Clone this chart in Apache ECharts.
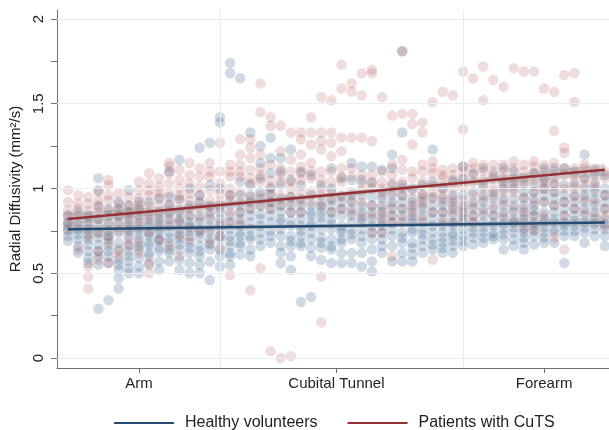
<!DOCTYPE html>
<html lang="en">
<head>
<meta charset="UTF-8">
<title>Radial Diffusivity</title>
<style>
  html, body { margin: 0; padding: 0; background: #fff; }
  #chart { width: 609px; height: 430px; }
</style>
<script src="https://cdn.jsdelivr.net/npm/echarts@6/dist/echarts.min.js"></script>
</head>
<body>
<div id="chart"></div>
<script>
// slice position index along the nerve -> RD values per group
const healthyValues = [
  [0.84, 0.78, 0.75, 0.72, 0.69, 0.80],
  [0.86, 0.80, 0.76, 0.73, 0.70, 0.66, 0.62],
  [0.84, 0.80, 0.76, 0.73, 0.70, 0.67, 0.63, 0.59, 0.56],
  [1.06, 0.99, 0.90, 0.82, 0.78, 0.74, 0.71, 0.67, 0.63, 0.60, 0.55, 0.29],
  [0.88, 0.84, 0.79, 0.75, 0.72, 0.70, 0.66, 0.63, 0.60, 0.56, 0.34],
  [0.92, 0.88, 0.84, 0.80, 0.74, 0.68, 0.64, 0.58, 0.55, 0.52, 0.47, 0.41],
  [0.99, 0.90, 0.86, 0.82, 0.78, 0.75, 0.72, 0.67, 0.63, 0.60, 0.57, 0.53, 0.50],
  [0.92, 0.88, 0.84, 0.80, 0.76, 0.73, 0.70, 0.66, 0.64, 0.59, 0.54, 0.50],
  [0.92, 0.84, 0.80, 0.78, 0.74, 0.72, 0.68, 0.66, 0.62, 0.60, 0.55],
  [0.94, 0.86, 0.82, 0.80, 0.76, 0.74, 0.70, 0.69, 0.65, 0.63, 0.57, 0.52],
  [1.10, 0.95, 0.90, 0.86, 0.82, 0.78, 0.74, 0.71, 0.68, 0.64, 0.62, 0.57],
  [1.17, 0.94, 0.86, 0.82, 0.80, 0.76, 0.73, 0.70, 0.67, 0.64, 0.58, 0.52],
  [1.00, 0.90, 0.84, 0.80, 0.78, 0.75, 0.72, 0.68, 0.65, 0.62, 0.56, 0.50],
  [1.24, 0.96, 0.92, 0.84, 0.80, 0.76, 0.74, 0.71, 0.66, 0.63, 0.60, 0.55, 0.50],
  [1.27, 1.02, 0.90, 0.86, 0.82, 0.78, 0.74, 0.70, 0.67, 0.64, 0.57, 0.46],
  [1.42, 1.39, 1.00, 0.90, 0.86, 0.82, 0.78, 0.76, 0.72, 0.70, 0.64, 0.60, 0.54],
  [1.74, 1.68, 0.96, 0.90, 0.84, 0.80, 0.76, 0.72, 0.69, 0.66, 0.62, 0.60, 0.55],
  [1.65, 1.04, 0.96, 0.90, 0.86, 0.82, 0.78, 0.74, 0.72, 0.68, 0.66, 0.61],
  [1.33, 1.02, 0.96, 0.92, 0.88, 0.84, 0.80, 0.76, 0.72, 0.70, 0.64, 0.60],
  [1.25, 1.15, 1.06, 0.98, 0.94, 0.90, 0.85, 0.82, 0.78, 0.74, 0.70, 0.66],
  [1.30, 1.18, 1.09, 1.00, 0.96, 0.92, 0.88, 0.84, 0.80, 0.75, 0.72, 0.68],
  [1.18, 1.10, 1.02, 0.94, 0.90, 0.86, 0.82, 0.80, 0.76, 0.72, 0.66, 0.62, 0.56],
  [1.23, 1.05, 0.95, 0.90, 0.86, 0.81, 0.78, 0.72, 0.69, 0.66, 0.60, 0.52],
  [1.10, 1.02, 0.94, 0.90, 0.86, 0.82, 0.78, 0.75, 0.72, 0.68, 0.66, 0.33],
  [1.08, 0.96, 0.90, 0.86, 0.84, 0.80, 0.78, 0.74, 0.70, 0.65, 0.60, 0.36],
  [1.02, 0.92, 0.89, 0.86, 0.83, 0.80, 0.76, 0.71, 0.68, 0.65, 0.58],
  [1.12, 1.00, 0.94, 0.90, 0.86, 0.82, 0.79, 0.76, 0.70, 0.66, 0.64, 0.56],
  [1.06, 0.96, 0.92, 0.88, 0.84, 0.78, 0.76, 0.74, 0.70, 0.68, 0.62, 0.56],
  [1.15, 1.05, 0.96, 0.92, 0.88, 0.84, 0.80, 0.76, 0.73, 0.70, 0.62, 0.56],
  [1.13, 1.05, 0.96, 0.90, 0.86, 0.82, 0.80, 0.76, 0.72, 0.68, 0.62, 0.54],
  [1.13, 1.03, 0.95, 0.90, 0.86, 0.82, 0.78, 0.74, 0.70, 0.64, 0.57, 0.51],
  [1.11, 0.98, 0.94, 0.90, 0.86, 0.82, 0.78, 0.74, 0.70, 0.66, 0.62],
  [1.20, 1.12, 1.02, 0.96, 0.92, 0.88, 0.84, 0.80, 0.76, 0.72, 0.66, 0.57],
  [1.81, 1.33, 1.02, 0.96, 0.92, 0.88, 0.84, 0.80, 0.74, 0.71, 0.68, 0.62, 0.57],
  [1.00, 0.94, 0.90, 0.86, 0.82, 0.80, 0.76, 0.74, 0.68, 0.65, 0.61, 0.57],
  [1.02, 0.96, 0.92, 0.88, 0.84, 0.80, 0.76, 0.73, 0.70, 0.66, 0.62],
  [1.23, 1.04, 0.95, 0.90, 0.86, 0.82, 0.78, 0.74, 0.70, 0.67, 0.64],
  [1.00, 0.94, 0.90, 0.86, 0.82, 0.78, 0.74, 0.71, 0.68, 0.65, 0.62],
  [1.05, 0.96, 0.92, 0.88, 0.84, 0.80, 0.78, 0.74, 0.72, 0.69, 0.66, 0.62],
  [1.13, 1.06, 0.96, 0.90, 0.86, 0.82, 0.80, 0.76, 0.72, 0.69, 0.66],
  [1.09, 0.98, 0.92, 0.88, 0.84, 0.80, 0.77, 0.74, 0.71, 0.67],
  [1.12, 1.02, 0.96, 0.92, 0.88, 0.84, 0.80, 0.77, 0.74, 0.71, 0.68],
  [1.08, 0.98, 0.94, 0.88, 0.84, 0.80, 0.78, 0.74, 0.72, 0.70],
  [1.12, 1.04, 1.00, 0.94, 0.90, 0.86, 0.82, 0.79, 0.76, 0.73, 0.70, 0.64],
  [1.10, 1.04, 1.00, 0.94, 0.90, 0.86, 0.82, 0.80, 0.77, 0.74, 0.70, 0.66],
  [1.04, 0.98, 0.94, 0.90, 0.86, 0.82, 0.80, 0.77, 0.74, 0.71, 0.68, 0.64],
  [1.09, 1.02, 0.98, 0.94, 0.90, 0.87, 0.84, 0.80, 0.78, 0.75, 0.72, 0.67],
  [1.12, 1.05, 1.00, 0.96, 0.92, 0.86, 0.82, 0.80, 0.77, 0.74, 0.71, 0.68],
  [1.12, 1.03, 0.98, 0.94, 0.90, 0.86, 0.82, 0.80, 0.76, 0.74, 0.68],
  [1.12, 1.02, 0.96, 0.92, 0.88, 0.84, 0.80, 0.78, 0.75, 0.72, 0.56],
  [1.10, 1.02, 0.96, 0.92, 0.88, 0.84, 0.81, 0.78, 0.75, 0.72],
  [1.20, 1.06, 1.00, 0.96, 0.92, 0.88, 0.84, 0.80, 0.77, 0.74, 0.68],
  [1.08, 1.02, 0.98, 0.94, 0.90, 0.86, 0.82, 0.79, 0.76, 0.72],
  [1.08, 1.00, 0.96, 0.92, 0.88, 0.82, 0.79, 0.76, 0.72, 0.66]
];

const patientValues = [
  [0.99, 0.92, 0.87, 0.84, 0.80, 0.76],
  [0.96, 0.91, 0.88, 0.84, 0.78, 0.64],
  [0.95, 0.91, 0.87, 0.83, 0.78, 0.72, 0.54, 0.48, 0.41],
  [0.98, 0.93, 0.89, 0.86, 0.82, 0.74, 0.63, 0.58],
  [1.05, 1.02, 0.96, 0.93, 0.87, 0.80, 0.72, 0.68, 0.56],
  [0.97, 0.91, 0.87, 0.84, 0.79, 0.75, 0.63, 0.60],
  [0.95, 0.90, 0.86, 0.84, 0.80, 0.76, 0.70, 0.66],
  [1.04, 0.99, 0.94, 0.90, 0.87, 0.82, 0.78, 0.68, 0.62],
  [1.09, 1.03, 0.99, 0.96, 0.90, 0.86, 0.82, 0.74, 0.56, 0.50],
  [1.06, 1.01, 0.98, 0.95, 0.90, 0.84, 0.78, 0.70],
  [1.15, 1.13, 1.09, 1.03, 0.97, 0.91, 0.85, 0.80, 0.66],
  [1.11, 1.05, 1.00, 0.96, 0.93, 0.87, 0.81, 0.72, 0.60],
  [1.15, 1.08, 1.03, 0.97, 0.93, 0.88, 0.84, 0.77, 0.70],
  [1.12, 1.07, 1.01, 0.96, 0.91, 0.88, 0.82, 0.75],
  [1.15, 1.10, 1.07, 0.99, 0.93, 0.89, 0.84, 0.76, 0.68],
  [1.27, 1.10, 1.03, 0.97, 0.92, 0.88, 0.80, 0.72, 0.65],
  [1.14, 1.10, 1.07, 1.00, 0.96, 0.93, 0.86, 0.80, 0.49],
  [1.29, 1.20, 1.14, 1.10, 1.07, 0.98, 0.92, 0.86, 0.80],
  [1.29, 1.24, 1.18, 1.11, 1.06, 1.03, 0.95, 0.88, 0.40],
  [1.62, 1.45, 1.20, 1.12, 1.08, 1.04, 0.96, 0.90, 0.53],
  [1.42, 1.37, 1.14, 1.05, 1.01, 0.97, 0.92, 0.88, 0.04],
  [1.37, 1.22, 1.12, 1.08, 1.04, 0.96, 0.90, 0.00],
  [1.33, 1.17, 1.10, 1.04, 1.00, 0.95, 0.92, 0.86, 0.01],
  [1.33, 1.29, 1.20, 1.13, 1.09, 1.05, 0.98, 0.92, 0.86],
  [1.42, 1.33, 1.26, 1.15, 1.10, 1.06, 0.98, 0.92],
  [1.54, 1.33, 1.28, 1.23, 1.10, 1.05, 1.00, 0.96, 0.90, 0.48, 0.21],
  [1.52, 1.33, 1.27, 1.19, 1.10, 1.04, 0.98, 0.93, 0.86],
  [1.73, 1.59, 1.30, 1.22, 1.12, 1.07, 1.04, 0.95, 0.88],
  [1.62, 1.57, 1.30, 1.12, 1.07, 0.98, 0.93, 0.86],
  [1.68, 1.55, 1.30, 1.08, 1.03, 0.99, 0.92, 0.84],
  [1.70, 1.68, 1.28, 1.08, 1.04, 1.00, 0.90, 0.84, 0.74],
  [1.54, 1.10, 1.04, 1.00, 0.96, 0.88, 0.84, 0.80, 0.74],
  [1.43, 1.14, 1.08, 1.03, 0.98, 0.90, 0.84, 0.80, 0.60],
  [1.81, 1.44, 1.17, 1.11, 1.04, 1.00, 0.96, 0.88, 0.82],
  [1.44, 1.38, 1.26, 1.10, 1.06, 0.99, 0.92, 0.88, 0.84],
  [1.39, 1.33, 1.14, 1.10, 1.04, 0.97, 0.94, 0.90, 0.82],
  [1.51, 1.16, 1.12, 1.09, 1.02, 0.98, 0.94, 0.86, 0.58],
  [1.57, 1.11, 1.08, 1.06, 1.00, 0.96, 0.92, 0.86, 0.80],
  [1.55, 1.12, 1.08, 1.04, 1.00, 0.94, 0.90, 0.86, 0.80],
  [1.69, 1.35, 1.13, 1.10, 1.05, 1.01, 0.93, 0.88, 0.84],
  [1.65, 1.15, 1.12, 1.08, 1.04, 0.96, 0.90, 0.84, 0.80],
  [1.72, 1.52, 1.14, 1.10, 1.05, 1.00, 0.94, 0.86],
  [1.64, 1.14, 1.10, 1.06, 1.00, 0.96, 0.90, 0.84],
  [1.60, 1.14, 1.10, 1.06, 1.02, 0.98, 0.92, 0.84],
  [1.71, 1.16, 1.12, 1.06, 1.02, 0.98, 0.88, 0.80],
  [1.69, 1.14, 1.10, 1.06, 1.02, 0.95, 0.88, 0.84, 0.76],
  [1.69, 1.16, 1.13, 1.09, 1.05, 0.98, 0.92, 0.84, 0.76],
  [1.59, 1.14, 1.10, 1.06, 1.03, 1.00, 0.92, 0.84],
  [1.57, 1.34, 1.15, 1.10, 1.06, 1.02, 0.98, 0.90, 0.71],
  [1.67, 1.24, 1.21, 1.12, 1.08, 1.00, 0.92, 0.84, 0.64],
  [1.68, 1.51, 1.12, 1.08, 1.04, 1.00, 0.95, 0.88],
  [1.14, 1.12, 1.06, 1.02, 0.94, 0.86],
  [1.12, 1.10, 1.04, 1.00, 0.92, 0.84],
  [1.10, 1.06, 0.96, 0.88, 0.84, 0.78]
];

// fitted lines and confidence bands
const fitX = [0, 53];
const healthyFit = [0.76, 0.80];
const patientFit = [0.82, 1.11];

const bandX = [0, 13, 26.5, 40, 53];
const healthyLower = [0.735, 0.755, 0.770, 0.775, 0.775];
const healthyUpper = [0.785, 0.785, 0.790, 0.805, 0.825];
const patientLower = [0.785, 0.871, 0.952, 1.019, 1.075];
const patientUpper = [0.855, 0.911, 0.978, 1.059, 1.145];

const regionLabels = ['Arm', 'Cubital Tunnel', 'Forearm'];
const regionTicks = [7, 26.5, 47];
const regionBounds = [15, 39];
const yLabelTicks = [0, 0.5, 1, 1.5, 2];
const yMinorTicks = [0, 0.25, 0.5, 0.75, 1, 1.25, 1.5, 1.75, 2];

const BLUE = '#234b73';
const RED = '#952f33';
const AXIS = '#6f6f6f';
const GRID = '#e8eef1';

function toPoints(cols) {
  const out = [];
  cols.forEach((vals, i) => vals.forEach(v => out.push([i, v])));
  return out;
}

// one quad per band segment, placed through the axes
function bandSeries(lower, upper) {
  return {
    type: 'custom', silent: true, z: 3,
    data: bandX.slice(0, -1).map((x, i) => [x, lower[i], upper[i]]),
    encode: { x: 0, y: [1, 2] },
    renderItem: (params, api) => {
      const i = params.dataIndex;
      const pts = [
        api.coord([bandX[i], lower[i]]),
        api.coord([bandX[i + 1], lower[i + 1]]),
        api.coord([bandX[i + 1], upper[i + 1]]),
        api.coord([bandX[i], upper[i]])
      ];
      return {
        type: 'polygon',
        shape: { points: pts },
        style: { fill: 'rgba(150,150,150,0.38)' }
      };
    }
  };
}

const chart = echarts.init(document.getElementById('chart'));

const option = {
  animation: false,
  textStyle: { fontFamily: 'Liberation Sans, Arial, sans-serif' },
  grid: { left: 57, right: 0, top: 10, bottom: 62 },
  legend: {
    left: 109, top: 410,
    itemWidth: 60, itemHeight: 2, itemGap: 30,
    textStyle: { fontSize: 16, color: '#222', padding: [0, 0, 0, 6] },
    data: [
      { name: 'Healthy volunteers', icon: 'rect' },
      { name: 'Patients with CuTS', icon: 'rect' }
    ]
  },
  xAxis: {
    type: 'value', min: -1.086, max: 53.41,
    splitLine: { show: false },
    axisLine: { onZero: false, lineStyle: { color: AXIS } },
    axisTick: { customValues: regionTicks, length: 5, lineStyle: { color: AXIS } },
    axisLabel: {
      customValues: regionTicks, fontSize: 15, color: '#222', margin: 8,
      formatter: v => regionLabels[regionTicks.indexOf(v)] || ''
    }
  },
  yAxis: {
    type: 'value', min: -0.059, max: 2.053,
    name: 'Radial Diffusivity (mm\u00b2/s)', nameLocation: 'middle', nameGap: 25,
    nameTextStyle: { fontSize: 15, color: '#222' },
    splitLine: { show: false },
    axisLine: { show: true, onZero: false, lineStyle: { color: AXIS } },
    axisTick: { show: true, customValues: yMinorTicks, length: 6, lineStyle: { color: AXIS } },
    axisLabel: {
      customValues: yLabelTicks, rotate: 90, fontSize: 15, color: '#222', margin: 11,
      formatter: v => String(v)
    }
  },
  series: [
    {
      name: 'healthy points', type: 'scatter', silent: true, z: 2,
      symbolSize: 10.5,
      itemStyle: { color: 'rgba(38,82,132,0.27)' },
      data: toPoints(healthyValues),
      markLine: {
        silent: true, symbol: 'none', label: { show: false },
        lineStyle: { color: GRID, width: 1, type: 'solid' },
        data: yLabelTicks.map(v => ({ yAxis: v })).concat(regionBounds.map(v => ({ xAxis: v })))
      }
    },
    {
      name: 'patient points', type: 'scatter', silent: true, z: 2,
      symbolSize: 10.5,
      itemStyle: { color: 'rgba(160,45,50,0.21)' },
      data: toPoints(patientValues)
    },
    bandSeries(healthyLower, healthyUpper),
    bandSeries(patientLower, patientUpper),
    {
      name: 'Healthy volunteers', type: 'line', symbol: 'none', z: 5,
      itemStyle: { color: BLUE }, lineStyle: { color: BLUE, width: 2.5 },
      data: fitX.map((x, i) => [x, healthyFit[i]])
    },
    {
      name: 'Patients with CuTS', type: 'line', symbol: 'none', z: 5,
      itemStyle: { color: RED }, lineStyle: { color: RED, width: 2.5 },
      data: fitX.map((x, i) => [x, patientFit[i]])
    }
  ]
};

chart.setOption(option);
</script>
</body>
</html>
